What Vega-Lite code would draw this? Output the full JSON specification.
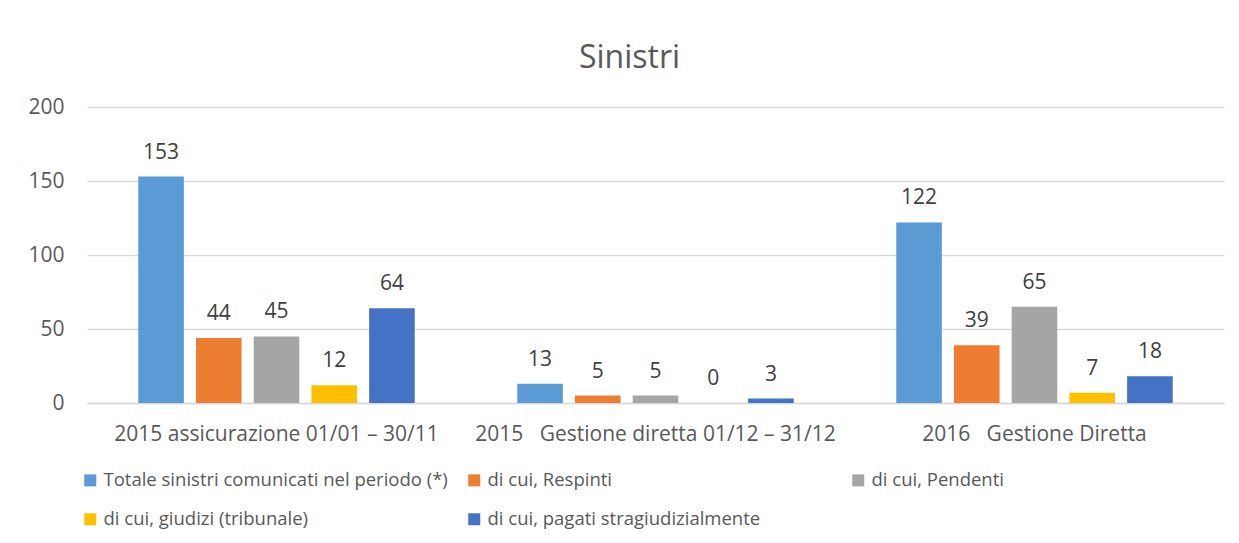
{
  "$schema": "https://vega.github.io/schema/vega-lite/v6.json",
  "width": 1137,
  "height": 296,
  "autosize": {"type": "none"},
  "padding": {"left": 87, "top": 107, "right": 15, "bottom": 140},
  "background": "white",
  "title": {
    "text": "Sinistri",
    "fontSize": 32,
    "font": "Open Sans",
    "fontWeight": "normal",
    "color": "#595959",
    "anchor": "middle",
    "dx": -26,
    "offset": 21
  },
  "data": {
    "values": [
      {"gruppo": "2015 assicurazione 01/01 – 30/11", "serie": "Totale sinistri comunicati nel periodo (*)", "valore": 153},
      {"gruppo": "2015 assicurazione 01/01 – 30/11", "serie": "di cui, Respinti", "valore": 44},
      {"gruppo": "2015 assicurazione 01/01 – 30/11", "serie": "di cui, Pendenti", "valore": 45},
      {"gruppo": "2015 assicurazione 01/01 – 30/11", "serie": "di cui, giudizi (tribunale)", "valore": 12},
      {"gruppo": "2015 assicurazione 01/01 – 30/11", "serie": "di cui, pagati stragiudizialmente", "valore": 64},
      {"gruppo": "2015 \u00a0 Gestione diretta 01/12 – 31/12", "serie": "Totale sinistri comunicati nel periodo (*)", "valore": 13},
      {"gruppo": "2015 \u00a0 Gestione diretta 01/12 – 31/12", "serie": "di cui, Respinti", "valore": 5},
      {"gruppo": "2015 \u00a0 Gestione diretta 01/12 – 31/12", "serie": "di cui, Pendenti", "valore": 5},
      {"gruppo": "2015 \u00a0 Gestione diretta 01/12 – 31/12", "serie": "di cui, giudizi (tribunale)", "valore": 0},
      {"gruppo": "2015 \u00a0 Gestione diretta 01/12 – 31/12", "serie": "di cui, pagati stragiudizialmente", "valore": 3},
      {"gruppo": "2016 \u00a0 Gestione Diretta", "serie": "Totale sinistri comunicati nel periodo (*)", "valore": 122},
      {"gruppo": "2016 \u00a0 Gestione Diretta", "serie": "di cui, Respinti", "valore": 39},
      {"gruppo": "2016 \u00a0 Gestione Diretta", "serie": "di cui, Pendenti", "valore": 65},
      {"gruppo": "2016 \u00a0 Gestione Diretta", "serie": "di cui, giudizi (tribunale)", "valore": 7},
      {"gruppo": "2016 \u00a0 Gestione Diretta", "serie": "di cui, pagati stragiudizialmente", "valore": 18}
    ]
  },
  "encoding": {
    "x": {
      "field": "gruppo",
      "type": "nominal",
      "sort": null,
      "title": null,
      "scale": {"paddingInner": 0, "paddingOuter": 0},
      "axis": {
        "labelAngle": 0,
        "ticks": false,
        "domainColor": "#D9D9D9",
        "domainWidth": 1.5,
        "labelPadding": 20,
        "labelFontSize": 21,
        "labelFont": "Open Sans",
        "labelColor": "#595959",
        "labelLimit": 400
      }
    },
    "xOffset": {
      "field": "serie",
      "type": "nominal",
      "scale": {
        "domain": ["Totale sinistri comunicati nel periodo (*)", "di cui, Respinti", "di cui, Pendenti", "di cui, giudizi (tribunale)", "di cui, pagati stragiudizialmente"],
        "paddingInner": 0.21,
        "paddingOuter": 0.888
      }
    },
    "y": {
      "field": "valore",
      "type": "quantitative",
      "title": null,
      "scale": {"domain": [0, 200]},
      "axis": {
        "values": [0, 50, 100, 150, 200],
        "ticks": false,
        "domain": false,
        "gridColor": "#D9D9D9",
        "gridWidth": 1.5,
        "labelPadding": 23,
        "labelFontSize": 21,
        "labelFont": "Open Sans",
        "labelColor": "#595959"
      }
    }
  },
  "layer": [
    {
      "mark": {"type": "bar"},
      "encoding": {
        "color": {
          "field": "serie",
          "type": "nominal",
          "title": null,
          "scale": {
            "domain": ["Totale sinistri comunicati nel periodo (*)", "di cui, Respinti", "di cui, Pendenti", "di cui, giudizi (tribunale)", "di cui, pagati stragiudizialmente"],
            "range": ["#5B9BD5", "#ED7D31", "#A5A5A5", "#FFC000", "#4472C4"]
          },
          "legend": {
            "orient": "none",
            "legendX": -6,
            "legendY": 364,
            "direction": "horizontal",
            "columns": 3,
            "gridAlign": "all",
            "columnPadding": 17,
            "rowPadding": 20,
            "symbolType": "square",
            "symbolSize": 144,
            "symbolStrokeWidth": 0,
            "symbolOpacity": 1,
            "labelFontSize": 18.5,
            "labelFont": "Open Sans",
            "labelColor": "#595959",
            "labelLimit": 500,
            "labelOffset": 4
          }
        }
      }
    },
    {
      "mark": {"type": "text", "baseline": "alphabetic", "dy": -18, "fontSize": 21, "font": "Open Sans", "color": "#404040"},
      "encoding": {
        "text": {"field": "valore", "type": "quantitative"}
      }
    }
  ],
  "config": {
    "view": {"stroke": null}
  }
}
